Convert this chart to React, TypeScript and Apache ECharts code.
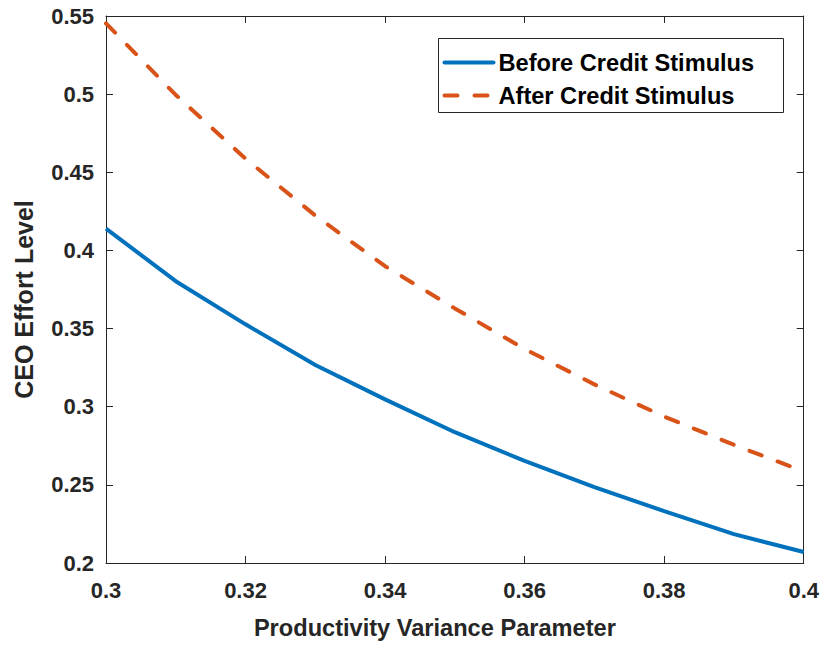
import React, { useEffect, useRef } from "react";
import * as echarts from "echarts";

const xValues = [0.3, 0.31, 0.32, 0.33, 0.34, 0.35, 0.36, 0.37, 0.38, 0.39, 0.4];
const beforeValues = [0.414, 0.3803, 0.3527, 0.3267, 0.3047, 0.2837, 0.2653, 0.2485, 0.2332, 0.2185, 0.207];
const afterValues = [0.5453, 0.4995, 0.4587, 0.4223, 0.3899, 0.3629, 0.3369, 0.3143, 0.2937, 0.2756, 0.2586];
const seriesNames = ["Before Credit Stimulus", "After Credit Stimulus"];
const seriesColors = ["#0072BD", "#D95319"];
const xTitle = "Productivity Variance Parameter";
const yTitle = "CEO Effort Level";

const FONT = "'Liberation Sans', Arial, Helvetica, sans-serif";
const AXIS_COLOR = "#262626";
const DASH = [13, 17];

export default function App() {
  const ref = useRef<HTMLDivElement>(null);
  useEffect(() => {
    if (!ref.current) return;
    const chart = echarts.init(ref.current, undefined, { renderer: "svg" });
    const pair = (ys: number[]) => xValues.map((x, i) => [x, ys[i]]);
    const axisCommon = {
      axisLine: { show: true, lineStyle: { color: AXIS_COLOR, width: 1 } },
      axisTick: { show: true, inside: true, length: 7, lineStyle: { color: AXIS_COLOR, width: 1 } },
      splitLine: { show: false },
    };
    const legendX = 438, legendY = 38;
    const legendRows = [24, 57];
    chart.setOption({
      animation: false,
      textStyle: { fontFamily: FONT },
      grid: { left: 106, right: 17, top: 16, bottom: 81, containLabel: false },
      xAxis: [
        {
          type: "value", min: 0.3, max: 0.4, interval: 0.02, position: "bottom",
          ...axisCommon,
          axisLabel: { show: true, margin: 16, fontSize: 22, fontWeight: "bold", color: "#262626", fontFamily: FONT,
            formatter: (v: number) => String(+v.toFixed(2)) },
          name: xTitle, nameLocation: "middle", nameGap: 53,
          nameTextStyle: { fontSize: 23.6, fontWeight: "bold", color: "#262626", fontFamily: FONT, padding: [0, 40, 0, 0] },
        },
        {
          type: "value", min: 0.3, max: 0.4, interval: 0.02, position: "top",
          ...axisCommon, axisLabel: { show: false },
        },
      ],
      yAxis: [
        {
          type: "value", min: 0.2, max: 0.55, interval: 0.05, position: "left",
          ...axisCommon,
          axisLabel: { show: true, margin: 12, fontSize: 22, fontWeight: "bold", color: "#262626", fontFamily: FONT,
            formatter: (v: number) => String(+v.toFixed(2)) },
          name: yTitle, nameLocation: "middle", nameGap: 70,
          nameTextStyle: { fontSize: 25, fontWeight: "bold", color: "#262626", fontFamily: FONT, padding: [0, 20, 0, 0] },
        },
        {
          type: "value", min: 0.2, max: 0.55, interval: 0.05, position: "right",
          ...axisCommon, axisLabel: { show: false },
        },
      ],
      graphic: [
        {
          type: "group", left: legendX, top: legendY,
          children: [
            { type: "rect", shape: { x: 0, y: 0, width: 345, height: 74 },
              style: { fill: "#fff", stroke: "#262626", lineWidth: 1 } },
            ...seriesNames.flatMap((name, i) => [
              { type: "line", shape: { x1: 6, y1: legendRows[i], x2: 55, y2: legendRows[i] },
                style: { stroke: seriesColors[i], lineWidth: 4, lineCap: "round", lineDash: i === 1 ? DASH : null } },
              { type: "text", x: 60, y: legendRows[i],
                style: { text: name, fontSize: 23.6, fontWeight: "bold", fill: "#000", fontFamily: FONT, verticalAlign: "middle", align: "left" } },
            ]),
          ],
        },
      ],
      series: [
        {
          name: seriesNames[0], type: "line", data: pair(beforeValues), showSymbol: false, symbol: "none",
          lineStyle: { color: seriesColors[0], width: 4 }, itemStyle: { color: seriesColors[0] },
        },
        {
          name: seriesNames[1], type: "line", data: pair(afterValues), showSymbol: false, symbol: "none",
          lineStyle: { color: seriesColors[1], width: 4, type: DASH, cap: "round" }, itemStyle: { color: seriesColors[1] },
        },
      ],
    });
    return () => chart.dispose();
  }, []);
  return <div ref={ref} style={{ width: 822, height: 645, position: "absolute", left: 0, top: 0, background: "#fff" }} />;
}
